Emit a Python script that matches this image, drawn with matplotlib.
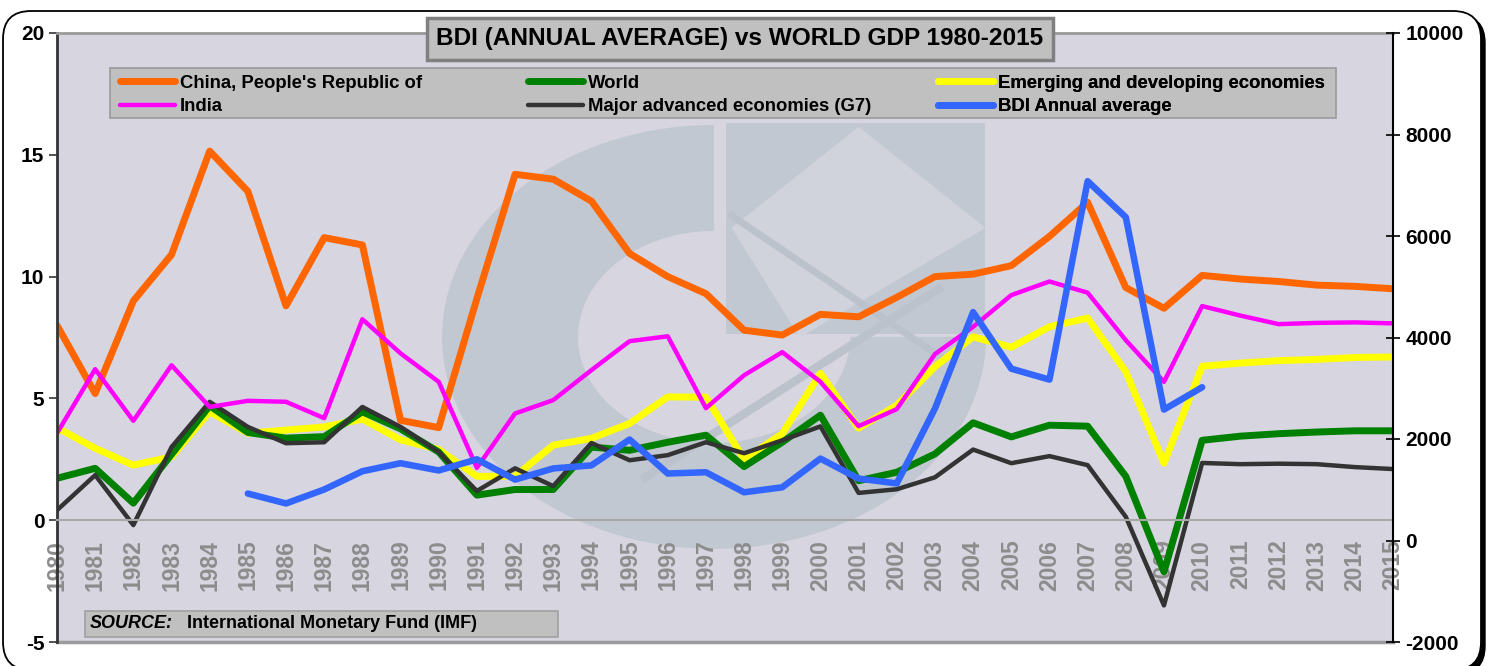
import matplotlib
matplotlib.use('Agg')
import matplotlib.pyplot as plt
import numpy as np
from matplotlib.patches import FancyBboxPatch, Rectangle, Polygon
from matplotlib.lines import Line2D
from matplotlib.transforms import IdentityTransform

plt.rcParams['font.family'] = ['Liberation Sans', 'DejaVu Sans']
plt.rcParams['font.weight'] = 'bold'
plt.rcParams['axes.unicode_minus'] = False

# ---- data ----
years = list(range(1980, 2016))
china = [8.0, 5.2, 9.0, 10.9, 15.15, 13.5, 8.8, 11.6, 11.3, 4.1,
         3.8, 9.1, 14.2, 14.0, 13.1, 10.95, 10.0, 9.3, 7.8, 7.6,
         8.45, 8.35, 9.15, 10.0, 10.1, 10.45, 11.65, 13.05, 9.55, 8.7,
         10.05, 9.9, 9.8, 9.65, 9.6, 9.5]
india = [3.57, 6.2, 4.08, 6.36, 4.65, 4.9, 4.86, 4.19, 8.25, 6.85,
         5.68, 2.15, 4.38, 4.93, 6.16, 7.35, 7.55, 4.6, 5.95, 6.9,
         5.68, 3.86, 4.56, 6.82, 7.94, 9.24, 9.8, 9.34, 7.39, 5.68,
         8.79, 8.4, 8.05, 8.1, 8.12, 8.08]
emerging = [3.8, 2.95, 2.26, 2.6, 4.45, 3.57, 3.7, 3.83, 4.15, 3.3,
            2.9, 1.8, 1.8, 3.08, 3.36, 3.97, 5.06, 5.05, 2.5, 3.55,
            6.03, 3.78, 4.72, 6.3, 7.53, 7.1, 7.94, 8.3, 6.1, 2.34,
            6.32, 6.45, 6.55, 6.6, 6.68, 6.7]
world = [1.72, 2.13, 0.7, 2.7, 4.7, 3.6, 3.37, 3.43, 4.45, 3.75,
         2.8, 1.03, 1.26, 1.26, 3.0, 2.87, 3.2, 3.49, 2.2, 3.2,
         4.31, 1.62, 1.97, 2.72, 4.0, 3.42, 3.9, 3.86, 1.8, -2.12,
         3.28, 3.45, 3.55, 3.62, 3.67, 3.67]
g7 = [0.41, 1.85, -0.2, 3.0, 4.86, 3.83, 3.16, 3.2, 4.65, 3.83,
      2.8, 1.2, 2.13, 1.4, 3.17, 2.46, 2.67, 3.2, 2.75, 3.28,
      3.85, 1.12, 1.27, 1.76, 2.9, 2.34, 2.63, 2.26, 0.14, -3.5,
      2.35, 2.3, 2.32, 2.3, 2.18, 2.1]
bdi_years = list(range(1985, 2011))
bdi = [925, 730, 1005, 1365, 1523, 1380, 1600, 1200, 1420, 1480,
       1990, 1320, 1345, 950, 1048, 1614, 1220, 1125, 2600, 4500,
       3385, 3170, 7080, 6370, 2580, 3020]

title = "BDI (ANNUAL AVERAGE) vs WORLD GDP 1980-2015"
source_lbl = "SOURCE:"
source_txt = "International Monetary Fund (IMF)"

W, H = 1489, 666
fig = plt.figure(figsize=(W / 100, H / 100), dpi=100)
fig.patch.set_facecolor('white')

# rounded frame with a heavier right/bottom edge
shadow = FancyBboxPatch((7, -8), W - 11, H - 7, boxstyle='round,pad=0,rounding_size=28',
                        transform=IdentityTransform(), fc='black', ec='black', zorder=-10)
frame = FancyBboxPatch((3, -4), W - 11, H - 7, boxstyle='round,pad=0,rounding_size=28',
                       transform=IdentityTransform(), fc='white', ec='black', lw=1.3, zorder=-9)
fig.add_artist(shadow)
fig.add_artist(frame)

ax = fig.add_axes([57 / W, (H - 642) / H, (1393 - 57) / W, (642 - 33) / H])
ax.set_facecolor('#D6D5E0')
ax.set_xlim(1980, 2015)
ax.set_ylim(-5, 20)

# faint logo watermark behind the lines
wm = '#C2C8D1'
cx, cy, rx, ry = 0.4918, 0.501, 0.2036, 0.348
t = np.linspace(np.pi / 2, 2 * np.pi, 200)
outer = np.column_stack([cx + rx * np.cos(t), cy + ry * np.sin(t)])
inner = np.column_stack([cx + 0.5 * rx * np.cos(t[::-1]), cy + 0.5 * ry * np.sin(t[::-1])])
ax.add_patch(Polygon(np.vstack([outer, inner]), closed=True, fc=wm, ec='none',
                     transform=ax.transAxes, zorder=0.5))
ax.add_patch(Rectangle((0.5007, 0.505), 0.194, 0.347, fc=wm, ec='none',
                       transform=ax.transAxes, zorder=0.5))
ax.add_patch(Polygon([[0.60, 0.846], [0.695, 0.68], [0.556, 0.50], [0.505, 0.68]], closed=True,
                     fc='#D0D2DC', ec='none', transform=ax.transAxes, zorder=0.6))
ax.plot([0.44, 0.66], [0.27, 0.58], color='#BCC2CB', lw=6, transform=ax.transAxes, zorder=0.7)
ax.plot([0.505, 0.66], [0.70, 0.47], color='#BCC2CB', lw=5, transform=ax.transAxes, zorder=0.7)

# series on the left axis
ax.plot(years, china, color='#FF6600', lw=5, solid_joinstyle='round', solid_capstyle='round', zorder=2)
ax.plot(years, emerging, color='#FFFF00', lw=5, solid_joinstyle='round', solid_capstyle='round', zorder=2.1)
ax.plot(years, world, color='#008000', lw=5, solid_joinstyle='round', solid_capstyle='round', zorder=2.2)
ax.plot(years, g7, color='#333333', lw=3.2, solid_joinstyle='round', solid_capstyle='round', zorder=2.3)
ax.plot(years, india, color='#FF00FF', lw=3.2, solid_joinstyle='round', solid_capstyle='round', zorder=2.4)

ax.axhline(-5, color='#9A9A9A', lw=2.5, clip_on=False, zorder=1)

ax.spines['left'].set_color('#333333')
ax.spines['left'].set_linewidth(2)
ax.spines['top'].set_color('#9A9A9A')
ax.spines['top'].set_linewidth(2)
ax.spines['right'].set_visible(False)
ax.spines['bottom'].set_position(('data', 0))
ax.spines['bottom'].set_color('#A8A8A8')
ax.spines['bottom'].set_linewidth(1.5)

ax.set_yticks(range(-5, 21, 5))
ax.tick_params(axis='y', direction='out', length=6, width=1.2, color='#333333',
               labelsize=15, pad=3, labelcolor='black')
ax.set_xticks(years)
ax.set_xticklabels([str(y) for y in years], rotation=90, color='#8C8C8C',
                   fontsize=16.5, fontweight='bold')
ax.tick_params(axis='x', length=0, pad=14)

# BDI on the right axis
ax2 = ax.twinx()
ax2.set_ylim(-2000, 10000)
ax2.plot(bdi_years, bdi, color='#3366FF', lw=4.7, solid_joinstyle='round', solid_capstyle='round')
for s in ['left', 'top', 'bottom']:
    ax2.spines[s].set_visible(False)
ax2.spines['right'].set_color('black')
ax2.spines['right'].set_linewidth(1.5)
ax2.set_yticks(range(-2000, 10001, 2000))
ax2.tick_params(axis='y', direction='inout', length=10, width=1.2, labelsize=15, pad=4)

# legend: grey box with three columns
ax2.add_artist(Rectangle((0.0397, 0.860), 0.918, 0.0825, transform=ax2.transAxes,
                         fc='#C0C0C0', ec='#9A9A9A', lw=1.2, zorder=4))
cols = [
    (0.0472, [('#FF6600', 5, "China, People's Republic of"), ('#FF00FF', 3.2, 'India')]),
    (0.3525, [('#008000', 5, 'World'), ('#333333', 3.2, 'Major advanced economies (G7)')]),
    (0.6594, [('#FFFF00', 5, 'Emerging and developing economies'), ('#3366FF', 5, 'BDI Annual average')]),
]
for xpos, entries in cols:
    handles = [Line2D([], [], color=c, lw=w, solid_capstyle='round') for c, w, _ in entries]
    labels = [lab for _, _, lab in entries]
    leg = ax2.legend(handles, labels, loc='upper left', bbox_to_anchor=(xpos, 0.9314),
                     bbox_transform=ax2.transAxes, frameon=False, fontsize=13.3,
                     handlelength=3.0, handletextpad=0.25, labelspacing=0.36,
                     borderpad=0, borderaxespad=0)
    leg.set_zorder(5)
    ax2.add_artist(leg)

# source box
ax2.add_artist(Rectangle((0.021, 0.0082), 0.354, 0.0427, transform=ax2.transAxes,
                         fc='#C0C0C0', ec='#A0A0A0', lw=1.2, zorder=4))
ax2.text(0.0247, 0.0296, source_lbl, transform=ax2.transAxes, va='center', ha='left',
         fontsize=13, style='italic', fontweight='bold', zorder=5)
ax2.text(0.0975, 0.0296, source_txt, transform=ax2.transAxes, va='center', ha='left',
         fontsize=13, fontweight='bold', zorder=5)

# title box
fig.text(740 / W, 1 - 39 / H, title, ha='center', va='center', fontsize=17.6, fontweight='bold',
         bbox=dict(boxstyle='square,pad=0.38', fc='#C0C0C0', ec='#808080', lw=2.5), zorder=6)

fig.savefig('out.png', dpi=100)
